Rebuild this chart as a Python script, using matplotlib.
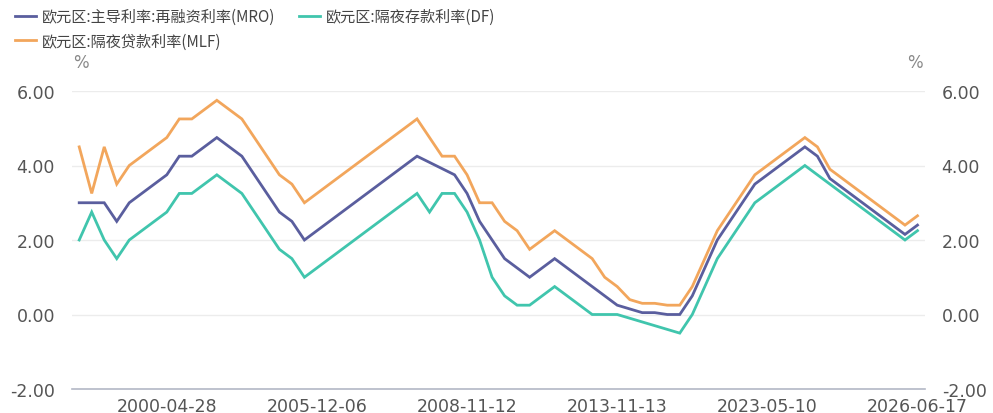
import matplotlib
matplotlib.use('Agg')
import matplotlib.pyplot as plt
import numpy as np
from matplotlib.font_manager import FontProperties

plt.rcParams['font.family'] = ['DejaVu Sans', 'Noto Sans CJK SC']

# ECB rate decision dates (category axis, evenly spaced)
dates = ['1999-01-01', '1999-01-04', '1999-01-22', '1999-04-09', '1999-11-05',
         '2000-02-04', '2000-03-17', '2000-04-28', '2000-06-09', '2000-06-28',
         '2000-09-01', '2000-10-06', '2001-05-11', '2001-08-31', '2001-09-18',
         '2001-11-09', '2002-12-06', '2003-03-07', '2003-06-06', '2005-12-06',
         '2006-03-08', '2006-06-15', '2006-08-09', '2006-10-11', '2006-12-13',
         '2007-03-14', '2007-06-13', '2008-07-09', '2008-10-08', '2008-10-09',
         '2008-10-15', '2008-11-12', '2008-12-10', '2009-01-21', '2009-03-11',
         '2009-04-08', '2009-05-13', '2011-04-13', '2011-07-13', '2011-11-09',
         '2011-12-14', '2012-07-11', '2013-05-08', '2013-11-13', '2014-06-11',
         '2014-09-10', '2015-12-09', '2016-03-16', '2019-09-18', '2022-07-27',
         '2022-09-14', '2022-11-02', '2022-12-21', '2023-02-08', '2023-03-22',
         '2023-05-10', '2023-06-21', '2023-08-02', '2023-09-20', '2024-06-12',
         '2024-09-18', '2024-10-23', '2024-12-18', '2025-02-05', '2025-03-12',
         '2025-04-23', '2025-06-11', '2026-06-17']

mro = [3.00, 3.00, 3.00, 2.50, 3.00, 3.25, 3.50, 3.75, 4.25, 4.25,
       4.50, 4.75, 4.50, 4.25, 3.75, 3.25, 2.75, 2.50, 2.00, 2.25,
       2.50, 2.75, 3.00, 3.25, 3.50, 3.75, 4.00, 4.25, np.nan, np.nan,
       3.75, 3.25, 2.50, 2.00, 1.50, 1.25, 1.00, 1.25, 1.50, 1.25,
       1.00, 0.75, 0.50, 0.25, 0.15, 0.05, 0.05, 0.00, 0.00, 0.50,
       1.25, 2.00, 2.50, 3.00, 3.50, 3.75, 4.00, 4.25, 4.50, 4.25,
       3.65, 3.40, 3.15, 2.90, 2.65, 2.40, 2.15, 2.40]

df = [2.00, 2.75, 2.00, 1.50, 2.00, 2.25, 2.50, 2.75, 3.25, 3.25,
      3.50, 3.75, 3.50, 3.25, 2.75, 2.25, 1.75, 1.50, 1.00, 1.25,
      1.50, 1.75, 2.00, 2.25, 2.50, 2.75, 3.00, 3.25, 2.75, 3.25,
      3.25, 2.75, 2.00, 1.00, 0.50, 0.25, 0.25, 0.50, 0.75, 0.50,
      0.25, 0.00, 0.00, 0.00, -0.10, -0.20, -0.30, -0.40, -0.50, 0.00,
      0.75, 1.50, 2.00, 2.50, 3.00, 3.25, 3.50, 3.75, 4.00, 3.75,
      3.50, 3.25, 3.00, 2.75, 2.50, 2.25, 2.00, 2.25]

mlf = [4.50, 3.25, 4.50, 3.50, 4.00, 4.25, 4.50, 4.75, 5.25, 5.25,
       5.50, 5.75, 5.50, 5.25, 4.75, 4.25, 3.75, 3.50, 3.00, 3.25,
       3.50, 3.75, 4.00, 4.25, 4.50, 4.75, 5.00, 5.25, 4.75, 4.25,
       4.25, 3.75, 3.00, 3.00, 2.50, 2.25, 1.75, 2.00, 2.25, 2.00,
       1.75, 1.50, 1.00, 0.75, 0.40, 0.30, 0.30, 0.25, 0.25, 0.75,
       1.50, 2.25, 2.75, 3.25, 3.75, 4.00, 4.25, 4.50, 4.75, 4.50,
       3.90, 3.65, 3.40, 3.15, 2.90, 2.65, 2.40, 2.65]

labels = ['欧元区:主导利率:再融资利率(MRO)', '欧元区:隔夜存款利率(DF)', '欧元区:隔夜贷款利率(MLF)']
colors = ['#5a5e9e', '#40c5ad', '#f2a65c']
shown_ticks = ['2000-04-28', '2005-12-06', '2008-11-12', '2013-11-13', '2023-05-10', '2026-06-17']

W, H = 993, 414
fig = plt.figure(figsize=(W / 100, H / 100), dpi=100)
ax = fig.add_axes([71.7 / W, 1 - 390 / H, (925 - 71.7) / W, (390 - 92) / H])

x = np.arange(len(dates))
lines = []
for vals, lab, c in zip([mro, df, mlf], labels, colors):
    v = np.array(vals, dtype=float)
    ok = ~np.isnan(v)
    ln, = ax.plot(x[ok], v[ok], color=c, lw=2.0, label=lab, solid_joinstyle='miter')
    lines.append(ln)

ax.set_xlim(-0.6, len(dates) - 0.4)
ax.set_ylim(-2, 6)
ax.set_yticks([-2, 0, 2, 4, 6])
ax.set_yticklabels(['%.2f' % t for t in [-2, 0, 2, 4, 6]])
ax.set_xticks([dates.index(d) for d in shown_ticks])
ax.set_xticklabels(shown_ticks)

ax.grid(axis='y', color='#ececec', lw=1)
ax.set_axisbelow(True)
for s in ['top', 'left', 'right']:
    ax.spines[s].set_visible(False)
ax.spines['bottom'].set_color('#b3b8c6')
ax.spines['bottom'].set_linewidth(1.2)

ax.tick_params(axis='y', length=0, pad=12, labelsize=12.5, colors='#555555',
               labelleft=True, labelright=True)
ax.tick_params(axis='x', length=0, pad=5.5, labelsize=12.5, colors='#555555')

fig.text(81 / W, 1 - 63 / H, '%', ha='center', va='center', fontsize=12, color='#888888')
fig.text(915 / W, 1 - 63 / H, '%', ha='center', va='center', fontsize=12, color='#888888')

leg_font = FontProperties(family=['Noto Sans CJK SC', 'DejaVu Sans'], size=10.9)
fig.legend([lines[0], lines[2], lines[1]], [labels[0], labels[2], labels[1]],
           ncol=2, loc='upper left', bbox_to_anchor=(15 / W, 1 - 9 / H),
           frameon=False, prop=leg_font, handlelength=1.4, handletextpad=0.35,
           columnspacing=1.6, labelspacing=0.5, borderpad=0, borderaxespad=0,
           labelcolor='#444444')

fig.savefig('out.png', dpi=100)
